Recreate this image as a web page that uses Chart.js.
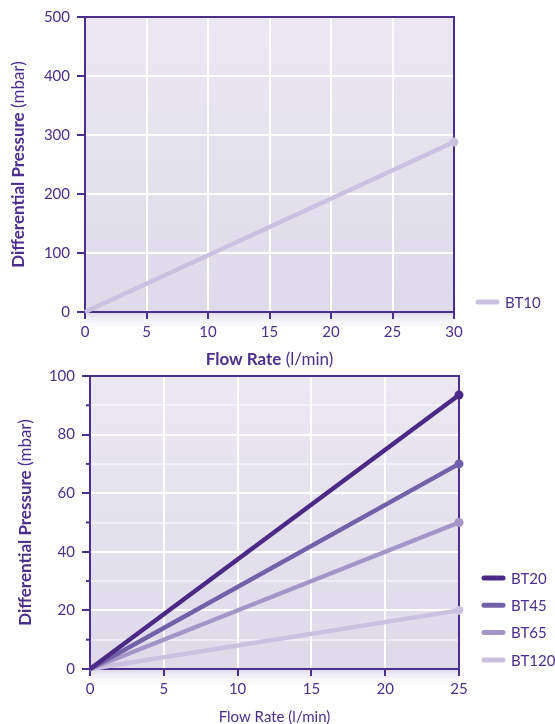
<!DOCTYPE html>
<html>
<head>
<meta charset="utf-8">
<script src="https://cdn.jsdelivr.net/npm/chart.js@4.4.1/dist/chart.umd.min.js"></script>
<style>
    html, body { margin: 0; padding: 0; background: #fff; }
    #wrap { position: relative; width: 555px; height: 724px; overflow: hidden; }
    #topWrap { position: absolute; left: 0; top: 0; width: 555px; height: 374px; }
    #bottomWrap { position: absolute; left: 0; top: 360px; width: 555px; height: 364px; }
</style>
</head>
<body>
<div id="wrap">
    <div id="topWrap"><canvas id="topChart" width="555" height="374"></canvas></div>
    <div id="bottomWrap"><canvas id="bottomChart" width="555" height="364"></canvas></div>
</div>
<script>
// chart data
const topFlow = [0, 30];
const topLabels = ['BT10'];
const topPressure = [[0, 288]];
const topColors = ['#c9c1df'];

const bottomFlow = [0, 25];
const bottomLabels = ['BT20', 'BT45', 'BT65', 'BT120'];
const bottomPressure = [
    [0, 93.5],
    [0, 70],
    [0, 50],
    [0, 20]
];
const bottomColors = ['#4a2a85', '#7260a8', '#a396c7', '#c9c1df'];

const PURPLE = '#4b2f8c';
const FONT = 'Lato, "DejaVu Sans", sans-serif';

function buildDatasets(labels, flow, pressure, colors) {
    return labels.map((label, i) => ({
        label: label,
        data: flow.map((x, j) => ({ x: x, y: pressure[i][j] })),
        borderColor: colors[i],
        backgroundColor: colors[i],
        borderWidth: 4.5,
        pointRadius: flow.map((x, j) => j === flow.length - 1 ? 4.5 : 0),
        pointBorderWidth: 0,
        pointHoverRadius: 0,
        tension: 0,
        clip: false
    }));
}

// background, frame, titles and legend
const panelPlugin = {
    id: 'panel',
    beforeDraw(chart) {
        const { ctx, chartArea: a } = chart;
        ctx.save();
        const g = ctx.createLinearGradient(0, a.top, 0, a.bottom);
        g.addColorStop(0, '#ebe8f3');
        g.addColorStop(1, '#dedaea');
        ctx.fillStyle = g;
        ctx.fillRect(a.left, a.top, a.right - a.left, a.bottom - a.top);
        const s = ctx.createLinearGradient(0, a.bottom, 0, a.bottom + 20);
        s.addColorStop(0, 'rgba(220,216,234,1)');
        s.addColorStop(1, 'rgba(255,255,255,0)');
        ctx.fillStyle = s;
        ctx.fillRect(a.left, a.bottom, a.right - a.left, 20);
        ctx.restore();
    },
    beforeDatasetsDraw(chart, args, opts) {
        const { ctx, chartArea: a } = chart;
        ctx.save();
        if (opts.minorTicks) {
            const y = chart.scales.y;
            opts.minorTicks.forEach(v => {
                const py = y.getPixelForValue(v);
                ctx.strokeStyle = PURPLE;
                ctx.lineWidth = 2;
                ctx.beginPath();
                ctx.moveTo(a.left - 4, py);
                ctx.lineTo(a.left, py);
                ctx.stroke();
            });
        }
        ctx.strokeStyle = PURPLE;
        ctx.lineWidth = 2;
        ctx.strokeRect(a.left, a.top, a.right - a.left, a.bottom - a.top);
        ctx.restore();
    },
    afterDraw(chart, args, opts) {
        const { ctx, chartArea: a } = chart;
        ctx.save();
        ctx.fillStyle = PURPLE;
        ctx.textBaseline = 'middle';

        // mixed weight titles
        const drawParts = (parts, cx, cy, rotate) => {
            ctx.save();
            ctx.translate(cx, cy);
            if (rotate) ctx.rotate(-Math.PI / 2);
            let total = 0;
            parts.forEach(p => { ctx.font = p.font; total += ctx.measureText(p.text).width; });
            let x = -total / 2;
            ctx.textAlign = 'left';
            parts.forEach(p => {
                ctx.font = p.font;
                ctx.fillText(p.text, x, 0);
                x += ctx.measureText(p.text).width;
            });
            ctx.restore();
        };
        drawParts(opts.yTitle, opts.yTitleX, (a.top + a.bottom) / 2, true);
        drawParts(opts.xTitle, (a.left + a.right) / 2, opts.xTitleY, false);

        // legend
        chart.data.datasets.forEach((ds, i) => {
            const y = opts.legendY + i * opts.legendStep;
            ctx.strokeStyle = ds.borderColor;
            ctx.lineWidth = 5;
            ctx.lineCap = 'round';
            ctx.beginPath();
            ctx.moveTo(opts.legendX, y);
            ctx.lineTo(opts.legendX + 19, y);
            ctx.stroke();
            ctx.font = '15px ' + FONT;
            ctx.textAlign = 'left';
            ctx.fillStyle = PURPLE;
            ctx.fillText(ds.label, opts.legendX + 27, y + 1);
        });
        ctx.restore();
    }
};

function axisOptions(max, step, width, height, minorStep) {
    return {
        x: {
            type: 'linear',
            min: 0,
            max: max.x,
            ticks: { stepSize: step.x, color: PURPLE, font: { family: FONT, size: 15 }, padding: 4 },
            grid: { color: '#fff', lineWidth: 2, tickColor: PURPLE, tickLength: 7, tickWidth: 2 },
            border: { color: PURPLE, width: 2 },
            afterFit: s => { s.height = height; }
        },
        y: {
            type: 'linear',
            min: 0,
            max: max.y,
            ticks: {
                stepSize: minorStep || step.y,
                autoSkip: false,
                color: PURPLE,
                font: { family: FONT, size: 15 },
                padding: 7,
                callback: v => (v % step.y === 0 ? v : '')
            },
            grid: {
                color: c => (c.tick && c.tick.value % step.y ? 'rgba(255,255,255,0.45)' : '#fff'),
                lineWidth: 2,
                tickColor: c => (c.tick && c.tick.value % step.y ? 'rgba(0,0,0,0)' : PURPLE),
                tickLength: 8,
                tickWidth: 2
            },
            border: { color: PURPLE, width: 2 },
            afterFit: s => { s.width = width; }
        }
    };
}

const topCtx = document.getElementById('topChart')?.getContext('2d');
if (topCtx) {
    new Chart(topCtx, {
        type: 'line',
        data: { datasets: buildDatasets(topLabels, topFlow, topPressure, topColors) },
        plugins: [panelPlugin],
        options: {
            responsive: false,
            animation: false,
            layout: { padding: { top: 17, right: 101, left: 0, bottom: 0 } },
            scales: axisOptions({ x: 30, y: 500 }, { x: 5, y: 100 }, 85, 62),
            plugins: {
                legend: { display: false },
                tooltip: { enabled: false },
                panel: {
                    yTitle: [
                        { text: 'Differential Pressure', font: 'bold 17px ' + FONT },
                        { text: ' (mbar)', font: '17px ' + FONT }
                    ],
                    yTitleX: 19,
                    xTitle: [
                        { text: 'Flow Rate', font: 'bold 17px ' + FONT },
                        { text: ' (l/min)', font: '17px ' + FONT }
                    ],
                    xTitleY: 360,
                    legendX: 478,
                    legendY: 302,
                    legendStep: 27
                }
            }
        }
    });
}

const bottomCtx = document.getElementById('bottomChart')?.getContext('2d');
if (bottomCtx) {
    new Chart(bottomCtx, {
        type: 'line',
        data: { datasets: buildDatasets(bottomLabels, bottomFlow, bottomPressure, bottomColors) },
        plugins: [panelPlugin],
        options: {
            responsive: false,
            animation: false,
            layout: { padding: { top: 15, right: 96, left: 0, bottom: 0 } },
            scales: axisOptions({ x: 25, y: 100 }, { x: 5, y: 20 }, 90, 55, 10),
            plugins: {
                legend: { display: false },
                tooltip: { enabled: false },
                panel: {
                    minorTicks: [10, 30, 50, 70, 90],
                    yTitle: [
                        { text: 'Differential Pressure', font: 'bold 17px ' + FONT },
                        { text: ' (mbar)', font: '17px ' + FONT }
                    ],
                    yTitleX: 26,
                    xTitle: [
                        { text: 'Flow Rate (l/min)', font: '15px ' + FONT }
                    ],
                    xTitleY: 357,
                    legendX: 484,
                    legendY: 218,
                    legendStep: 27.3
                }
            }
        }
    });
}
</script>
</body>
</html>
